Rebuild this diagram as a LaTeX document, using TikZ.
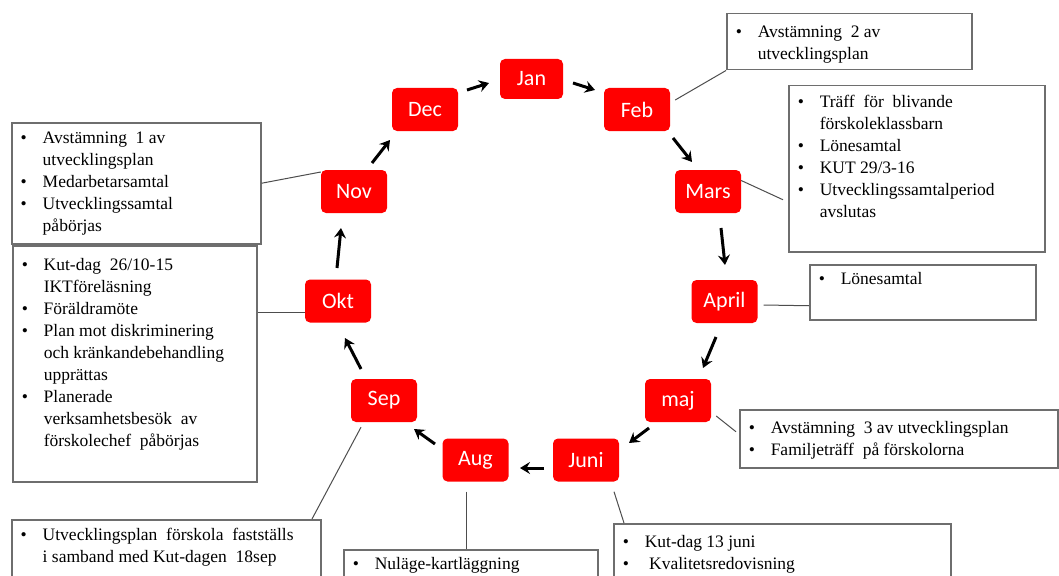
\documentclass[tikz,border=0pt]{standalone}
\usepackage{fontspec}
\setmainfont{Liberation Serif}
\newfontfamily\monthfont{Carlito}
\usetikzlibrary{arrows.meta}
\definecolor{mred}{HTML}{FF0000}
\definecolor{bordergray}{HTML}{6E6E6E}
\definecolor{linegray}{HTML}{4D4D4D}
\newcommand\mystrut{\rule[-6pt]{0pt}{22pt}}
\newcommand\bi[1]{\par\noindent\mbox{\mystrut\makebox[31pt][l]{\hspace*{9pt}\textbullet}#1}}
\newcommand\ci[1]{\par\noindent\mbox{\mystrut\hspace*{31pt}#1}}
\newcommand\boxtext[4]{\parbox[t][#2pt][t]{#1pt}{\fontsize{17.5}{22}\selectfont\setlength\parskip{0pt}\setlength\parindent{0pt}\vspace*{#3pt}#4}}
\begin{document}
\begin{tikzpicture}[x=1pt,y=-1pt,
  month/.style={fill=mred, rounded corners=5pt, minimum width=66pt, minimum height=43pt, inner sep=0pt, text=white, font=\monthfont\fontsize{22}{24}\selectfont},
  infobox/.style={draw=bordergray, line width=1.5pt, fill=white, inner sep=0pt, anchor=north west},
  arr/.style={line width=3pt, -{Stealth[length=10pt,width=12pt,inset=3.5pt]}},
  conn/.style={draw=linegray, line width=1pt}]
\useasboundingbox (0,0) rectangle (1059,575);
\clip (0,0) rectangle (1059,575);
\fill[white] (0,0) rectangle (1059,575);

% month nodes
\node[month, minimum width=63pt, minimum height=40pt] (jan) at (531.5,79) {Jan};
\node[month] (feb) at (637,109.5) {Feb};
\node[month] (mars) at (708,191.5) {Mars};
\node[month] (april) at (724.5,301.5) {April};
\node[month] (maj) at (678,400.5) {maj};
\node[month] (juni) at (586,460) {Juni};
\node[month] (aug) at (475.5,460) {Aug};
\node[month] (sep) at (384,400.5) {Sep};
\node[month] (okt) at (338,301) {Okt};
\node[month] (nov) at (354,191.5) {Nov};
\node[month] (dec) at (425,109.5) {Dec};

% info boxes
\node[infobox] (novbox) at (11,122) {\boxtext{249}{121}{5}{%
  \bi{Avstämning\ \ 1 av}\ci{utvecklingsplan}\bi{Medarbetarsamtal}\bi{Utvecklingssamtal}\ci{påbörjas}}};
\node[infobox] (oktbox) at (12,245) {\boxtext{244}{236}{9}{%
  \bi{Kut-dag\ \ 26/10-15}\ci{IKTföreläsning}\bi{Föräldramöte}\bi{Plan mot diskriminering}\ci{och kränkandebehandling}\ci{upprättas}\bi{Planerade}\ci{verksamhetsbesök\ \ av}\ci{förskolechef\ \ påbörjas}}};
\node[infobox] (febbox) at (726,13) {\boxtext{245}{56}{8}{%
  \bi{Avstämning\ \ 2 av}\ci{utvecklingsplan}}};
\node[infobox] (marsbox) at (788,85) {\boxtext{256}{166}{6}{%
  \bi{Träff\ \ för\ \ blivande}\ci{förskoleklassbarn}\bi{Lönesamtal}\bi{KUT 29/3-16}\bi{Utvecklingssamtalperiod}\ci{avslutas}}};
\node[infobox] (aprilbox) at (809,264) {\boxtext{226}{55}{4}{%
  \bi{Lönesamtal}}};
\node[infobox] (majbox) at (739,409) {\boxtext{318}{58}{8}{%
  \bi{Avstämning\ \ 3 av utvecklingsplan}\bi{Familjeträff\ \ på förskolorna}}};
\node[infobox] (sepbox) at (11,519) {\boxtext{309}{70}{5}{%
  \bi{Utvecklingsplan\ \ förskola\ \ fastställs}\ci{i samband med Kut-dagen\ \ 18sep}}};
\node[infobox] (augbox) at (343,549) {\boxtext{254}{40}{4}{%
  \bi{Nuläge-kartläggning}}};
\node[infobox] (junibox) at (613,523) {\boxtext{337}{66}{8}{%
  \bi{Kut-dag 13 juni}\bi{\ Kvalitetsredovisning}}};

% cycle arrows
\draw[arr] ([shift={(42,-19.5)}]dec.center) -- ([shift={(-42.5,4)}]jan.center);
\draw[arr] ([shift={(41.5,4)}]jan.center) -- ([shift={(-42,-19.5)}]feb.center);
\draw[arr] ([shift={(36,28.5)}]feb.center) -- ([shift={(-16,-29.5)}]mars.center);
\draw[arr] ([shift={(13,36.5)}]mars.center) -- ([shift={(0.5,-36.5)}]april.center);
\draw[arr] ([shift={(-8.5,35.5)}]april.center) -- ([shift={(25,-32.5)}]maj.center);
\draw[arr] ([shift={(-29,27.5)}]maj.center) -- ([shift={(43,-17)}]juni.center);
\draw[arr] ([shift={(-42,8)}]juni.center) -- ([shift={(44.5,8)}]aug.center);
\draw[arr] ([shift={(-40.5,-16)}]aug.center) -- ([shift={(30,28.5)}]sep.center);
\draw[arr] ([shift={(-23,-31.5)}]sep.center) -- ([shift={(7,37)}]okt.center);
\draw[arr] ([shift={(-1,-33)}]okt.center) -- ([shift={(-13,36.5)}]nov.center);
\draw[arr] ([shift={(18,-28.5)}]nov.center) -- ([shift={(-35,30.5)}]dec.center);

% connectors to info boxes
\draw[conn] (novbox.east) -- ([shift={(0,-19.5)}]nov.west);
\draw[conn] ([shift={(0,67)}]oktbox.north east) -- ([shift={(0,11)}]okt.west);
\draw[conn] (febbox.south west) -- ([shift={(5,-9.5)}]feb.east);
\draw[conn] ([shift={(0,-11)}]mars.east) -- ([shift={(-5,31)}]marsbox.west);
\draw[conn] ([shift={(6,3.5)}]april.east) -- ([shift={(0,13.5)}]aprilbox.west);
\draw[conn] ([shift={(5,15.5)}]maj.east) -- ([shift={(-3,-7)}]majbox.west);
\draw[conn] ([shift={(-23,5)}]sep.south) -- ([shift={(301,0)}]sepbox.north west);
\draw[conn] ([shift={(-9.5,10)}]aug.south) -- ([shift={(123,0)}]augbox.north west);
\draw[conn] ([shift={(28,10)}]juni.south) -- ([shift={(11,0)}]junibox.north west);
\end{tikzpicture}
\end{document}
